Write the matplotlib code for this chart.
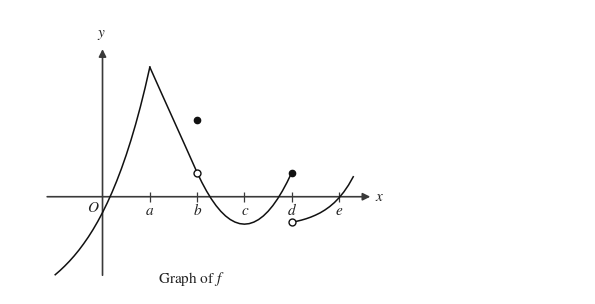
import matplotlib
matplotlib.use("Agg")
import matplotlib.pyplot as plt

plt.rcParams['font.family'] = ['STIXGeneral', 'DejaVu Serif']
plt.rcParams['mathtext.fontset'] = 'stix'

# tick positions on the x-axis
tick_names = ['a', 'b', 'c', 'd', 'e']
tick_pos = [1.0, 2.0, 3.0, 4.0, 5.0]

# piece 1: x <= a, rises to the cusp at a
p1_x = [-1.0, -0.9, -0.8, -0.7, -0.6, -0.5, -0.4, -0.3, -0.2, -0.1, 0.0,
        0.1, 0.2, 0.3, 0.4, 0.5, 0.6, 0.7, 0.8, 0.9, 1.0]
p1_y = [-1.649, -1.562, -1.467, -1.364, -1.252, -1.130, -0.996, -0.852, -0.694, -0.522, -0.335,
        -0.131, 0.090, 0.332, 0.594, 0.880, 1.192, 1.531, 1.900, 2.302, 2.740]

# piece 2: a <= x <= d, hole at b
p2_x = [1.0, 1.25, 1.5, 1.75, 2.0, 2.1, 2.2, 2.3, 2.4, 2.5, 2.6, 2.7, 2.8, 2.9, 3.0,
        3.1, 3.2, 3.3, 3.4, 3.5, 3.6, 3.7, 3.8, 3.9, 4.0]
p2_y = [2.74, 2.18, 1.625, 1.07, 0.51, 0.303, 0.118, -0.046, -0.188, -0.308, -0.406, -0.482, -0.536, -0.569, -0.58,
        -0.569, -0.536, -0.482, -0.406, -0.308, -0.188, -0.046, 0.118, 0.303, 0.51]

# piece 3: x > d
p3_x = [4.0, 4.1, 4.2, 4.3, 4.4, 4.5, 4.6, 4.7, 4.8, 4.9, 5.0, 5.1, 5.2, 5.3]
p3_y = [-0.54, -0.520, -0.496, -0.467, -0.432, -0.390, -0.341, -0.281, -0.210, -0.125, -0.022, 0.100, 0.246, 0.422]

filled_x = [2.0, 4.0]
filled_y = [1.62, 0.51]
open_x = [2.0, 4.0]
open_y = [0.51, -0.54]

fig = plt.figure(figsize=(5.95, 3.04), dpi=100)
ax = fig.add_axes([0, 0, 1, 1])
ax.set_xlim(-2.167, 10.41)
ax.set_ylim(-2.268, 4.159)
ax.axis('off')

axis_col = '#3a3a3a'
ax.annotate('', xy=(5.66, 0), xytext=(-1.17, 0),
            arrowprops=dict(arrowstyle='-|>', lw=1.2, color=axis_col, mutation_scale=11,
                            shrinkA=0, shrinkB=0))
ax.annotate('', xy=(0, 3.12), xytext=(0, -1.66),
            arrowprops=dict(arrowstyle='-|>', lw=1.2, color=axis_col, mutation_scale=11,
                            shrinkA=0, shrinkB=0))

ax.plot(tick_pos, [0] * len(tick_pos), linestyle='none', marker='|', ms=7, mew=0.9, color=axis_col)
for name, xpos in zip(tick_names, tick_pos):
    ax.text(xpos, -0.3, name, ha='center', va='center', fontsize=11, style='italic', color='#222')
ax.text(-0.22, -0.23, 'O', ha='center', va='center', fontsize=11, style='italic', color='#222')
ax.text(5.85, 0.0, 'x', ha='center', va='center', fontsize=11, style='italic', color='#222')
ax.text(-0.03, 3.47, 'y', ha='center', va='center', fontsize=11, style='italic', color='#222')
ax.text(1.88, -1.74, 'Graph of $f$', ha='center', va='center', fontsize=11, color='#222')

for xs, ys in [(p1_x, p1_y), (p2_x, p2_y), (p3_x, p3_y)]:
    ax.plot(xs, ys, color='#111', lw=1.1, solid_joinstyle='round', zorder=3)

ax.plot(filled_x, filled_y, linestyle='none', marker='o', ms=4.5, color='#111', zorder=4)
ax.plot(open_x, open_y, linestyle='none', marker='o', ms=5, mfc='white', mec='#111', mew=1.0, zorder=5)

fig.savefig('out.png', dpi=100, facecolor='white')
